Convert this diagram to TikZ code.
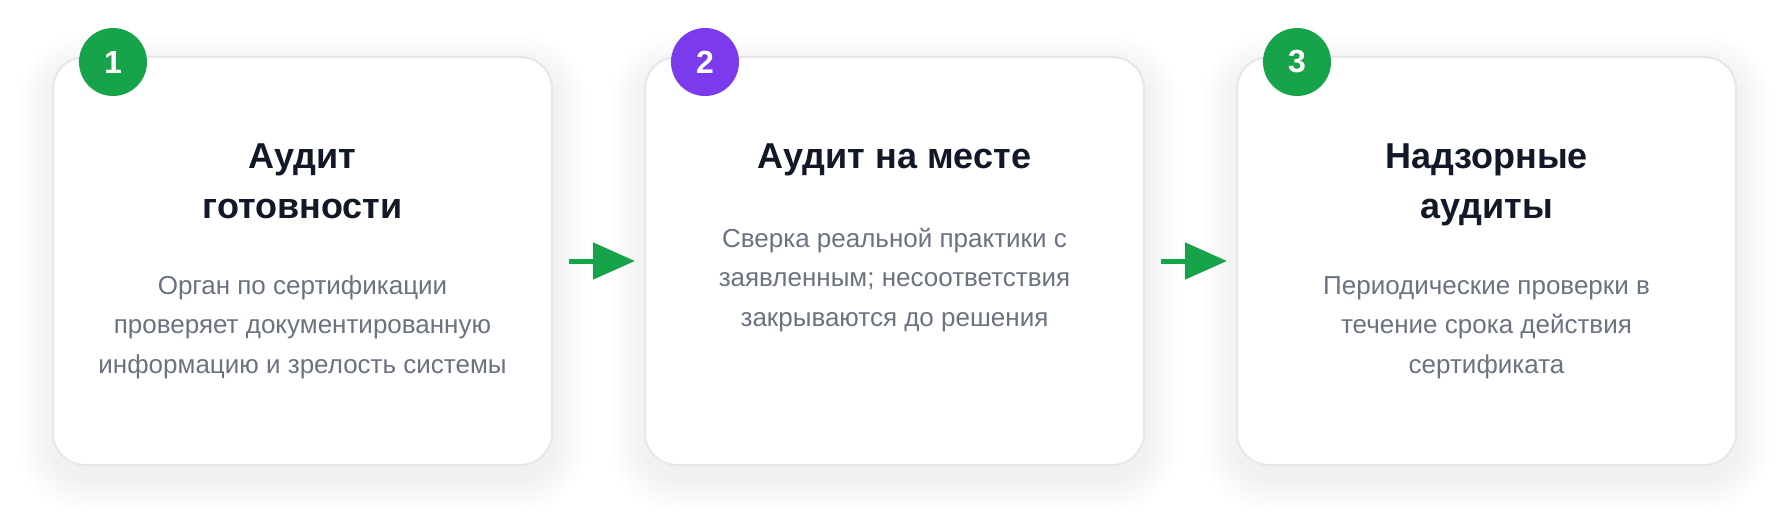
\documentclass[tikz,border=0pt]{standalone}
\usepackage{fontspec}
\setmainfont{Liberation Sans}
\usetikzlibrary{arrows.meta}
\pgfdeclarelayer{background}
\pgfsetlayers{background,main}
\definecolor{cardborder}{HTML}{E5E7EB}
\definecolor{titlecol}{HTML}{111827}
\definecolor{desccol}{HTML}{6B7280}
\definecolor{stepgreen}{HTML}{16A34A}
\definecolor{steppurple}{HTML}{7C3AED}
\tikzset{
  card/.style={draw=cardborder, line width=2pt, fill=white, rounded corners=32pt,
    minimum width=499pt, minimum height=408pt, inner sep=0pt, outer sep=0pt},
  badge/.style={circle, fill=#1, minimum size=68pt, inner sep=0pt, outer sep=0pt,
    text=white, font=\bfseries\fontsize{32}{32}\selectfont},
  titletext/.style={align=center, text=titlecol, inner sep=0pt, anchor=base,
    font=\bfseries\fontsize{36}{50.5}\selectfont},
  desctext/.style={align=center, text=desccol, inner sep=0pt, anchor=base,
    font=\fontsize{26}{39.5}\selectfont},
  flow/.style={draw=stepgreen, line width=5pt, -{Triangle[length=42pt,width=36pt]}},
  softshadow/.style={fill=black, opacity=0.0032},
}
\begin{document}
\begin{tikzpicture}[x=1pt,y=-1pt]
\useasboundingbox (0,0) rectangle (1790,525);

\node[card] (c1) at (302.5,261) {};
\node[card] (c2) at (894.5,261) {};
\node[card] (c3) at (1486.5,261) {};

\begin{pgfonlayer}{background}
\fill[white] (0,0) rectangle (1790,525);
\foreach \c in {c1,c2,c3}{
  \foreach \k in {1,...,14}{
    \pgfmathsetmacro\d{\k*2.5}
    \pgfmathsetmacro\r{32+\d}
    \fill[softshadow, rounded corners=\r pt]
      ([shift={(-\d,-\d+12)}]\c.north west) rectangle ([shift={(\d,\d+12)}]\c.south east);
  }
}
\end{pgfonlayer}

\node[badge=stepgreen] (b1) at ([shift={(60,5)}]c1.north west) {1};
\node[badge=steppurple] (b2) at ([shift={(60,5)}]c2.north west) {2};
\node[badge=stepgreen] (b3) at ([shift={(60,5)}]c3.north west) {3};

% base anchor = baseline of the last line
\node[titletext] (t1) at (302.5,218.5) {Аудит\\готовности};
\node[desctext] (d1) at (302.5,373) {Орган по сертификации\\проверяет документированную\\информацию и зрелость системы};

\node[titletext] (t2) at (894.5,168) {Аудит на месте};
\node[desctext] (d2) at (894.5,326) {Сверка реальной практики с\\заявленным; несоответствия\\закрываются до решения};

\node[titletext] (t3) at (1486.5,218.5) {Надзорные\\аудиты};
\node[desctext] (d3) at (1486.5,373) {Периодические проверки в\\течение срока действия\\сертификата};

\draw[flow] ([xshift=17]c1.east) -- ([xshift=-10]c2.west);
\draw[flow] ([xshift=17]c2.east) -- ([xshift=-10]c3.west);
\end{tikzpicture}
\end{document}
